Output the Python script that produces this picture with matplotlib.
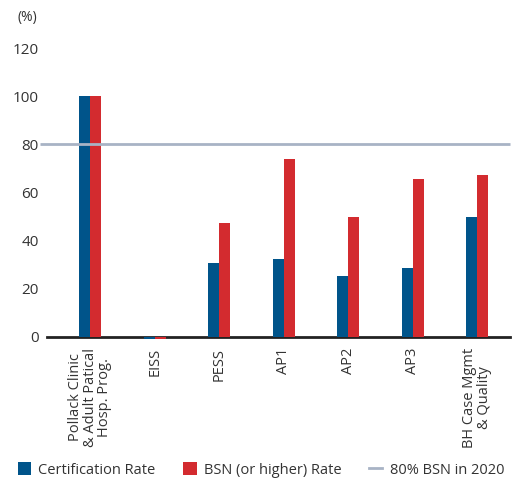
import matplotlib
matplotlib.use('Agg')
import matplotlib.pyplot as plt
from matplotlib.patches import Patch
from matplotlib.lines import Line2D
import numpy as np

programs = ['Pollack Clinic\n& Adult Patical\nHosp. Prog.', 'EISS', 'PESS', 'AP1', 'AP2', 'AP3',
            'BH Case Mgmt\n& Quality']
certification = [100, -0.8, 30.8, 32.4, 25.3, 28.6, 49.7]
bsn = [100, -0.8, 47.2, 73.7, 49.7, 65.4, 67.1]
target = 80
y_ticks = [0, 20, 40, 60, 80, 100, 120]

BLUE = '#00548a'
RED = '#d32b2f'
LINE = '#a8b3c5'
TEXT = '#333333'

plt.rcParams['font.family'] = ['Open Sans', 'DejaVu Sans']

fig = plt.figure(figsize=(5.2, 4.83), dpi=100)
ax = fig.add_axes([47 / 520, 1 - 336.7 / 483, 463 / 520, (336.7 - 48) / 483])

x = np.arange(len(programs))
w = 0.17
ax.bar(x - w / 2, certification, width=w, color=BLUE, clip_on=False, zorder=2)
ax.bar(x + w / 2, bsn, width=w, color=RED, clip_on=False, zorder=2)

# target line starts a little left of the axis
ax.plot([-0.78, 6.51], [target, target], color=LINE, linewidth=2, clip_on=False, zorder=3,
        solid_capstyle='butt')

ax.set_xlim(-0.67, 6.51)
ax.set_ylim(0, 120)
ax.set_yticks(y_ticks)
ax.set_xticks(x)
ax.set_xticklabels(programs, rotation=90, va='top', ha='center', linespacing=0.95)
ax.tick_params(axis='both', length=0, labelcolor=TEXT)
ax.tick_params(axis='y', pad=6, labelsize=11)
ax.tick_params(axis='x', pad=8, labelsize=10.5)

for side in ['top', 'right', 'left']:
    ax.spines[side].set_visible(False)
ax.spines['bottom'].set_color('#222222')
ax.spines['bottom'].set_linewidth(2)
ax.spines['bottom'].set_zorder(1)

fig.text(17 / 520, 1 - 17 / 483, '(%)', fontsize=10, color=TEXT, va='center', ha='left')

handles = [
    Patch(facecolor=BLUE, edgecolor='none'),
    Patch(facecolor=RED, edgecolor='none'),
    Line2D([0], [0], color=LINE, linewidth=2),
]
labels = ['Certification Rate', 'BSN (or higher) Rate', '80% BSN in 2020']
fig.legend(handles, labels, loc='center left', bbox_to_anchor=(18 / 520, 1 - 470 / 483), ncol=3,
           frameon=False, fontsize=10.5, labelcolor=TEXT, handlelength=0.9, handleheight=0.9,
           handletextpad=0.5, columnspacing=1.9, borderaxespad=0, borderpad=0)

fig.savefig('out.png', dpi=100)
